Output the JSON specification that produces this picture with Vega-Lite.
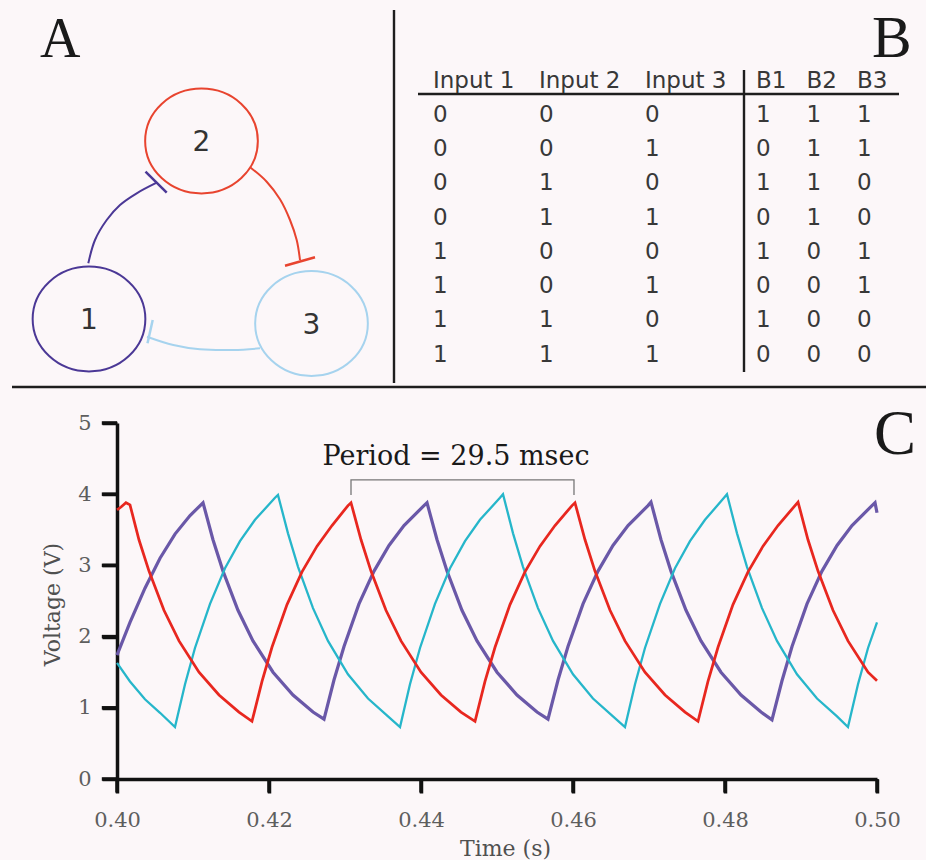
{
  "$schema": "https://vega.github.io/schema/vega-lite/v6.json",
  "width": 760,
  "height": 356,
  "autosize": {"type": "none"},
  "padding": {"left": 117, "top": 423, "right": 49, "bottom": 81},
  "background": "#fcf7f9",
  "config": {"view": {"stroke": null}},
  "datasets": {
    "volt": [
      {"n":"1","t":0.40000,"v":1.74},{"n":"1","t":0.40171,"v":2.20},{"n":"1","t":0.40368,"v":2.68},{"n":"1","t":0.40566,"v":3.10},{"n":"1","t":0.40763,"v":3.44},{"n":"1","t":0.40961,"v":3.70},{"n":"1","t":0.41132,"v":3.88},
      {"n":"1","t":0.41263,"v":3.36},{"n":"1","t":0.41395,"v":2.92},{"n":"1","t":0.41592,"v":2.37},{"n":"1","t":0.41789,"v":1.94},{"n":"1","t":0.42053,"v":1.50},{"n":"1","t":0.42316,"v":1.18},{"n":"1","t":0.42579,"v":0.94},{"n":"1","t":0.42724,"v":0.84},
      {"n":"1","t":0.42855,"v":1.39},{"n":"1","t":0.42987,"v":1.86},{"n":"1","t":0.43184,"v":2.46},{"n":"1","t":0.43382,"v":2.92},{"n":"1","t":0.43579,"v":3.28},{"n":"1","t":0.43776,"v":3.56},{"n":"1","t":0.44039,"v":3.84},{"n":"1","t":0.44079,"v":3.88},
      {"n":"1","t":0.44211,"v":3.36},{"n":"1","t":0.44342,"v":2.92},{"n":"1","t":0.44539,"v":2.37},{"n":"1","t":0.44737,"v":1.94},{"n":"1","t":0.45000,"v":1.50},{"n":"1","t":0.45263,"v":1.18},{"n":"1","t":0.45526,"v":0.94},{"n":"1","t":0.45671,"v":0.84},
      {"n":"1","t":0.45803,"v":1.39},{"n":"1","t":0.45934,"v":1.86},{"n":"1","t":0.46132,"v":2.46},{"n":"1","t":0.46329,"v":2.92},{"n":"1","t":0.46526,"v":3.28},{"n":"1","t":0.46724,"v":3.56},{"n":"1","t":0.46987,"v":3.84},{"n":"1","t":0.47026,"v":3.89},
      {"n":"1","t":0.47158,"v":3.36},{"n":"1","t":0.47289,"v":2.92},{"n":"1","t":0.47487,"v":2.37},{"n":"1","t":0.47684,"v":1.94},{"n":"1","t":0.47947,"v":1.50},{"n":"1","t":0.48211,"v":1.18},{"n":"1","t":0.48474,"v":0.94},{"n":"1","t":0.48618,"v":0.83},
      {"n":"1","t":0.48750,"v":1.38},{"n":"1","t":0.48882,"v":1.86},{"n":"1","t":0.49079,"v":2.46},{"n":"1","t":0.49276,"v":2.92},{"n":"1","t":0.49474,"v":3.28},{"n":"1","t":0.49671,"v":3.56},{"n":"1","t":0.49934,"v":3.84},{"n":"1","t":0.49974,"v":3.88},{"n":"1","t":0.50000,"v":3.74},

      {"n":"3","t":0.40000,"v":1.63},{"n":"3","t":0.40171,"v":1.37},{"n":"3","t":0.40368,"v":1.12},{"n":"3","t":0.40566,"v":0.93},{"n":"3","t":0.40763,"v":0.73},
      {"n":"3","t":0.40895,"v":1.33},{"n":"3","t":0.41026,"v":1.84},{"n":"3","t":0.41224,"v":2.46},{"n":"3","t":0.41421,"v":2.96},{"n":"3","t":0.41618,"v":3.34},{"n":"3","t":0.41816,"v":3.64},{"n":"3","t":0.42079,"v":3.95},{"n":"3","t":0.42118,"v":3.99},
      {"n":"3","t":0.42250,"v":3.45},{"n":"3","t":0.42382,"v":2.98},{"n":"3","t":0.42579,"v":2.40},{"n":"3","t":0.42776,"v":1.94},{"n":"3","t":0.43039,"v":1.47},{"n":"3","t":0.43303,"v":1.13},{"n":"3","t":0.43566,"v":0.88},{"n":"3","t":0.43724,"v":0.73},
      {"n":"3","t":0.43855,"v":1.33},{"n":"3","t":0.43987,"v":1.84},{"n":"3","t":0.44184,"v":2.46},{"n":"3","t":0.44382,"v":2.96},{"n":"3","t":0.44579,"v":3.34},{"n":"3","t":0.44776,"v":3.64},{"n":"3","t":0.45039,"v":3.95},{"n":"3","t":0.45079,"v":4.00},
      {"n":"3","t":0.45211,"v":3.45},{"n":"3","t":0.45342,"v":2.98},{"n":"3","t":0.45539,"v":2.40},{"n":"3","t":0.45737,"v":1.94},{"n":"3","t":0.46000,"v":1.47},{"n":"3","t":0.46263,"v":1.13},{"n":"3","t":0.46526,"v":0.88},{"n":"3","t":0.46684,"v":0.73},
      {"n":"3","t":0.46816,"v":1.33},{"n":"3","t":0.46947,"v":1.84},{"n":"3","t":0.47145,"v":2.46},{"n":"3","t":0.47342,"v":2.96},{"n":"3","t":0.47539,"v":3.34},{"n":"3","t":0.47737,"v":3.64},{"n":"3","t":0.47987,"v":3.95},{"n":"3","t":0.48026,"v":4.00},
      {"n":"3","t":0.48158,"v":3.45},{"n":"3","t":0.48289,"v":2.98},{"n":"3","t":0.48487,"v":2.40},{"n":"3","t":0.48684,"v":1.94},{"n":"3","t":0.48947,"v":1.47},{"n":"3","t":0.49211,"v":1.13},{"n":"3","t":0.49474,"v":0.88},{"n":"3","t":0.49618,"v":0.73},
      {"n":"3","t":0.49750,"v":1.33},{"n":"3","t":0.49882,"v":1.84},{"n":"3","t":0.50000,"v":2.20},

      {"n":"2","t":0.40000,"v":3.78},{"n":"2","t":0.40053,"v":3.82},{"n":"2","t":0.40118,"v":3.88},{"n":"2","t":0.40171,"v":3.85},{"n":"2","t":0.40289,"v":3.36},{"n":"2","t":0.40421,"v":2.92},{"n":"2","t":0.40618,"v":2.37},{"n":"2","t":0.40816,"v":1.94},{"n":"2","t":0.41079,"v":1.50},{"n":"2","t":0.41342,"v":1.18},{"n":"2","t":0.41605,"v":0.94},{"n":"2","t":0.41776,"v":0.81},
      {"n":"2","t":0.41908,"v":1.37},{"n":"2","t":0.42039,"v":1.85},{"n":"2","t":0.42237,"v":2.45},{"n":"2","t":0.42434,"v":2.91},{"n":"2","t":0.42632,"v":3.27},{"n":"2","t":0.42829,"v":3.56},{"n":"2","t":0.43039,"v":3.84},{"n":"2","t":0.43079,"v":3.88},
      {"n":"2","t":0.43211,"v":3.36},{"n":"2","t":0.43342,"v":2.92},{"n":"2","t":0.43539,"v":2.37},{"n":"2","t":0.43737,"v":1.94},{"n":"2","t":0.44000,"v":1.50},{"n":"2","t":0.44263,"v":1.18},{"n":"2","t":0.44526,"v":0.94},{"n":"2","t":0.44711,"v":0.81},
      {"n":"2","t":0.44842,"v":1.37},{"n":"2","t":0.44974,"v":1.85},{"n":"2","t":0.45171,"v":2.45},{"n":"2","t":0.45368,"v":2.91},{"n":"2","t":0.45566,"v":3.27},{"n":"2","t":0.45763,"v":3.56},{"n":"2","t":0.45987,"v":3.84},{"n":"2","t":0.46026,"v":3.88},
      {"n":"2","t":0.46158,"v":3.36},{"n":"2","t":0.46289,"v":2.92},{"n":"2","t":0.46487,"v":2.37},{"n":"2","t":0.46684,"v":1.94},{"n":"2","t":0.46947,"v":1.50},{"n":"2","t":0.47211,"v":1.18},{"n":"2","t":0.47474,"v":0.94},{"n":"2","t":0.47645,"v":0.81},
      {"n":"2","t":0.47776,"v":1.37},{"n":"2","t":0.47908,"v":1.85},{"n":"2","t":0.48105,"v":2.45},{"n":"2","t":0.48303,"v":2.91},{"n":"2","t":0.48500,"v":3.27},{"n":"2","t":0.48697,"v":3.56},{"n":"2","t":0.48921,"v":3.84},{"n":"2","t":0.48961,"v":3.89},
      {"n":"2","t":0.49092,"v":3.36},{"n":"2","t":0.49224,"v":2.92},{"n":"2","t":0.49421,"v":2.37},{"n":"2","t":0.49618,"v":1.94},{"n":"2","t":0.49882,"v":1.50},{"n":"2","t":0.50000,"v":1.38}
    ],
    "bracket": [
      {"t":0.43079,"v":3.99,"o":0},{"t":0.43079,"v":4.20,"o":1},{"t":0.46013,"v":4.20,"o":2},{"t":0.46013,"v":3.99,"o":3}
    ],
    "period": [{"t":0.44461,"v":4.41,"label":"Period = 29.5 msec"}],
    "ticks": [
      {"t":0.40,"t2":0.40,"v":0,"v2":-0.19},{"t":0.42,"t2":0.42,"v":0,"v2":-0.19},{"t":0.44,"t2":0.44,"v":0,"v2":-0.19},
      {"t":0.46,"t2":0.46,"v":0,"v2":-0.19},{"t":0.48,"t2":0.48,"v":0,"v2":-0.19},{"t":0.50,"t2":0.50,"v":0,"v2":-0.19},
      {"t":0.398,"t2":0.40,"v":0,"v2":0},{"t":0.398,"t2":0.40,"v":1,"v2":1},{"t":0.398,"t2":0.40,"v":2,"v2":2},
      {"t":0.398,"t2":0.40,"v":3,"v2":3},{"t":0.398,"t2":0.40,"v":4,"v2":4},{"t":0.398,"t2":0.40,"v":5,"v2":5}
    ],
    "seps": [
      {"fx":12,"fy":387,"fx2":926,"fy2":387},
      {"fx":394,"fy":10,"fx2":394,"fy2":383},
      {"fx":418,"fy":94,"fx2":899,"fy2":94},
      {"fx":744,"fy":70,"fx2":744,"fy2":372}
    ],
    "nodes": [
      {"node":"1","fx":89,"fy":319},
      {"node":"2","fx":201.5,"fy":141},
      {"node":"3","fx":311.5,"fy":323.5}
    ],
    "arcs": [
      {"node":"1","o":0,"fx":88.3,"fy":263.3},{"node":"1","o":1,"fx":95,"fy":240},{"node":"1","o":2,"fx":106.7,"fy":220},{"node":"1","o":3,"fx":120,"fy":205},{"node":"1","o":4,"fx":136.7,"fy":193.3},{"node":"1","o":5,"fx":156.7,"fy":182.7},
      {"node":"2","o":0,"fx":250.7,"fy":167.7},{"node":"2","o":1,"fx":266.7,"fy":181.7},{"node":"2","o":2,"fx":280,"fy":199.3},{"node":"2","o":3,"fx":290,"fy":220},{"node":"2","o":4,"fx":296.7,"fy":240},{"node":"2","o":5,"fx":300,"fy":260},
      {"node":"3","o":0,"fx":147,"fy":336.7},{"node":"3","o":1,"fx":173.3,"fy":345},{"node":"3","o":2,"fx":200,"fy":349.3},{"node":"3","o":3,"fx":233.3,"fy":350},{"node":"3","o":4,"fx":260,"fy":348.3}
    ],
    "bars": [
      {"node":"1","fx":145.5,"fy":171.7,"fx2":166.7,"fy2":192.7},
      {"node":"2","fx":285,"fy":265.7,"fx2":315,"fy2":257.3},
      {"node":"3","fx":152.7,"fy":320,"fx2":147.5,"fy2":343.3}
    ],
    "letters": [
      {"label":"A","fx":40,"fy":57},
      {"label":"B","fx":872,"fy":57},
      {"label":"C","fx":874,"fy":454}
    ],
    "table": [
      {"r":0,"Input 1":"Input 1","Input 2":"Input 2","Input 3":"Input 3","B1":"B1","B2":"B2","B3":"B3"},
      {"r":1,"Input 1":"0","Input 2":"0","Input 3":"0","B1":"1","B2":"1","B3":"1"},
      {"r":2,"Input 1":"0","Input 2":"0","Input 3":"1","B1":"0","B2":"1","B3":"1"},
      {"r":3,"Input 1":"0","Input 2":"1","Input 3":"0","B1":"1","B2":"1","B3":"0"},
      {"r":4,"Input 1":"0","Input 2":"1","Input 3":"1","B1":"0","B2":"1","B3":"0"},
      {"r":5,"Input 1":"1","Input 2":"0","Input 3":"0","B1":"1","B2":"0","B3":"1"},
      {"r":6,"Input 1":"1","Input 2":"0","Input 3":"1","B1":"0","B2":"0","B3":"1"},
      {"r":7,"Input 1":"1","Input 2":"1","Input 3":"0","B1":"1","B2":"0","B3":"0"},
      {"r":8,"Input 1":"1","Input 2":"1","Input 3":"1","B1":"0","B2":"0","B3":"0"}
    ]
  },
  "layer": [
    {
      "encoding": {
        "x": {"field": "fx", "type": "quantitative", "scale": {"domain": [0, 926], "range": [-117, 809], "nice": false, "zero": false}, "axis": null},
        "y": {"field": "fy", "type": "quantitative", "scale": {"domain": [0, 860], "range": [-423, 437], "nice": false, "zero": false}, "axis": null}
      },
      "layer": [
        {
          "data": {"name": "seps"},
          "mark": {"type": "rule", "color": "#1e1e1e", "strokeWidth": 2.4},
          "encoding": {"x2": {"field": "fx2"}, "y2": {"field": "fy2"}}
        },
        {
          "data": {"name": "nodes"},
          "mark": {"type": "point", "shape": "M-1,0A1,0.93,0,1,1,1,0A1,0.93,0,1,1,-1,0Z", "size": 12700, "filled": false, "strokeWidth": 2, "opacity": 1},
          "encoding": {"color": {"field": "node", "type": "nominal", "scale": {"domain": ["1", "2", "3"], "range": ["#4b3896", "#e8442f", "#a6d3ee"]}, "legend": null}}
        },
        {
          "data": {"name": "arcs"},
          "mark": {"type": "line", "interpolate": "catmull-rom", "strokeWidth": 2},
          "encoding": {
            "color": {"field": "node", "type": "nominal", "legend": null},
            "order": {"field": "o", "type": "quantitative"}
          }
        },
        {
          "data": {"name": "bars"},
          "mark": {"type": "rule", "strokeWidth": 2.5},
          "encoding": {"x2": {"field": "fx2"}, "y2": {"field": "fy2"}, "color": {"field": "node", "type": "nominal", "legend": null}}
        },
        {
          "data": {"name": "nodes"},
          "mark": {"type": "text", "font": "DejaVu Sans", "fontSize": 28, "align": "center", "baseline": "middle", "color": "#333333", "dy": 2},
          "encoding": {"text": {"field": "node"}}
        },
        {
          "data": {"name": "letters"},
          "mark": {"type": "text", "font": "Liberation Serif", "align": "left", "baseline": "alphabetic", "color": "#1a1a1a"},
          "encoding": {
            "text": {"field": "label"},
            "size": {"field": "label", "type": "ordinal", "scale": {"domain": ["A", "B", "C"], "range": [56, 63, 58]}, "legend": null}
          }
        }
      ]
    },
    {
      "data": {"name": "table"},
      "transform": [{"fold": ["Input 1", "Input 2", "Input 3"], "as": ["col", "val"]}],
      "mark": {"type": "text", "font": "DejaVu Sans", "fontSize": 23, "align": "left", "baseline": "middle", "color": "#383838"},
      "encoding": {
        "x": {"field": "col", "type": "nominal", "scale": {"type": "point", "domain": ["Input 1", "Input 2", "Input 3"], "range": [316, 528], "padding": 0}, "axis": null},
        "y": {"field": "r", "type": "quantitative", "scale": {"domain": [0, 8], "range": [-342.5, -68.5], "nice": false, "zero": false}, "axis": null},
        "text": {"field": "val"}
      }
    },
    {
      "data": {"name": "table"},
      "transform": [{"fold": ["B1", "B2", "B3"], "as": ["col", "val"]}],
      "mark": {"type": "text", "font": "DejaVu Sans", "fontSize": 23, "align": "left", "baseline": "middle", "color": "#383838"},
      "encoding": {
        "x": {"field": "col", "type": "nominal", "scale": {"type": "point", "domain": ["B1", "B2", "B3"], "range": [639, 740], "padding": 0}, "axis": null},
        "y": {"field": "r", "type": "quantitative", "scale": {"domain": [0, 8], "range": [-342.5, -68.5], "nice": false, "zero": false}, "axis": null},
        "text": {"field": "val"}
      }
    },
    {
      "layer": [
        {
          "data": {"name": "volt"},
          "mark": {"type": "line", "strokeJoin": "miter"},
          "encoding": {
            "x": {"field": "t", "type": "quantitative",
              "scale": {"domain": [0.4, 0.5], "nice": false, "zero": false},
              "axis": {"values": [0.4, 0.42, 0.44, 0.46, 0.48, 0.5], "format": ".2f", "title": "Time (s)",
                "titleFont": "DejaVu Serif", "titleFontSize": 22, "titleFontWeight": "normal", "titleColor": "#505050",
                "titleX": 388, "titleY": 76, "titleBaseline": "alphabetic",
                "labelFont": "DejaVu Serif", "labelFontSize": 21, "labelColor": "#5e5e5e", "labelPadding": 16, "labelDx": 3,
                "labelFlush": false, "labelOverlap": false,
                "ticks": true, "tickSize": 14, "tickWidth": 3.5, "tickColor": "#111111",
                "domainWidth": 3.5, "domainColor": "#111111", "grid": false}},
            "y": {"field": "v", "type": "quantitative",
              "scale": {"domain": [0, 5], "nice": false, "zero": false},
              "axis": {"values": [0, 1, 2, 3, 4, 5], "format": "d", "title": "Voltage (V)",
                "titleFont": "DejaVu Serif", "titleFontSize": 22, "titleFontWeight": "normal", "titleColor": "#505050",
                "titleX": -65, "titleY": 181, "titleBaseline": "middle", "titleAngle": 270,
                "labelFont": "DejaVu Serif", "labelFontSize": 21, "labelColor": "#5e5e5e", "labelPadding": 11,
                "labelFlush": false, "labelOverlap": false,
                "ticks": true, "tickSize": 15, "tickWidth": 3.5, "tickColor": "#111111",
                "domainWidth": 3.5, "domainColor": "#111111", "grid": false}},
            "color": {"field": "n", "type": "nominal", "scale": {"domain": ["1", "2", "3"], "range": ["#6a58a8", "#e8271f", "#26b6ca"]}, "legend": null},
            "strokeWidth": {"field": "n", "type": "ordinal", "scale": {"domain": ["1", "2", "3"], "range": [3.2, 2.3, 2.6]}, "legend": null}
          }
        },
        {
          "data": {"name": "ticks"},
          "mark": {"type": "rule", "color": "#111111", "strokeWidth": 3.5, "strokeCap": "butt"},
          "encoding": {
            "x": {"field": "t", "type": "quantitative"},
            "x2": {"field": "t2"},
            "y": {"field": "v", "type": "quantitative"},
            "y2": {"field": "v2"}
          }
        },
        {
          "data": {"name": "bracket"},
          "mark": {"type": "line", "color": "#777777", "strokeWidth": 1.3},
          "encoding": {
            "x": {"field": "t", "type": "quantitative"},
            "y": {"field": "v", "type": "quantitative"},
            "order": {"field": "o", "type": "quantitative"}
          }
        },
        {
          "data": {"name": "period"},
          "mark": {"type": "text", "font": "DejaVu Serif", "fontSize": 27, "align": "center", "baseline": "alphabetic", "color": "#1a1a1a"},
          "encoding": {
            "x": {"field": "t", "type": "quantitative"},
            "y": {"field": "v", "type": "quantitative"},
            "text": {"field": "label"}
          }
        }
      ]
    }
  ],
  "resolve": {
    "scale": {"x": "independent", "y": "independent", "color": "independent", "size": "independent", "strokeWidth": "independent"},
    "axis": {"x": "independent", "y": "independent"}
  }
}
